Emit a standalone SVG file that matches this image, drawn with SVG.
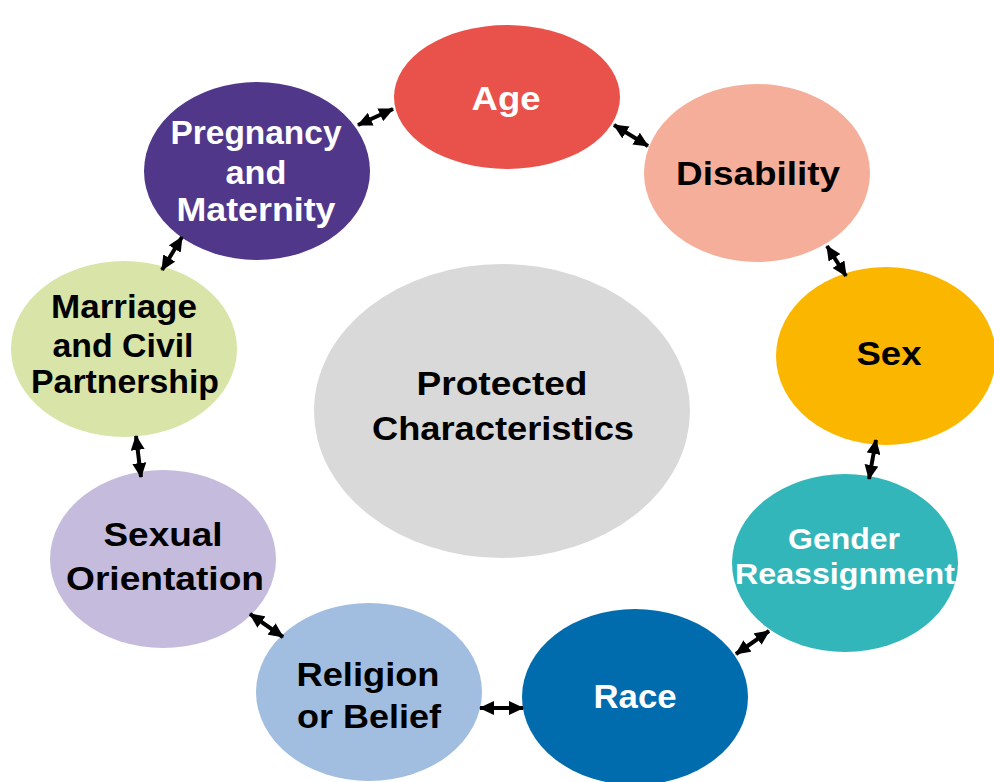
<svg xmlns="http://www.w3.org/2000/svg" width="994" height="782" viewBox="0 0 994 782">
<style>
text{font-family:"Liberation Sans",Arial,sans-serif;font-weight:bold;font-size:34px;text-anchor:middle}
.w{fill:#ffffff}.b{fill:#000000}
.s{font-size:30px}
.c{stroke:#000;stroke-width:4;fill:none;marker-start:url(#ah);marker-end:url(#ah)}
</style>
<defs>
<marker id="ah" viewBox="0 0 15 14" refX="14" refY="7" markerWidth="15" markerHeight="14" markerUnits="userSpaceOnUse" orient="auto-start-reverse">
<path d="M0,0 L15,7 L0,14 Z" fill="#000"/>
</marker>
</defs>
<rect width="994" height="782" fill="#fff"/>
<g id="center">
<ellipse cx="502" cy="411" rx="188" ry="147" fill="#D9D9D9"/>
<text class="b" x="502" y="395" textLength="171" lengthAdjust="spacingAndGlyphs">Protected</text>
<text class="b" x="503" y="440" textLength="262" lengthAdjust="spacingAndGlyphs">Characteristics</text>
</g>
<g id="age">
<ellipse cx="507" cy="97" rx="113" ry="72" fill="#E8524A"/>
<text class="w" x="506" y="110" textLength="69" lengthAdjust="spacingAndGlyphs">Age</text>
</g>
<g id="disability">
<ellipse cx="757" cy="173" rx="113" ry="89" fill="#F5AE9A"/>
<text class="b" x="758" y="185" textLength="164" lengthAdjust="spacingAndGlyphs">Disability</text>
</g>
<g id="sex">
<ellipse cx="886" cy="356" rx="110" ry="89" fill="#FBB700"/>
<text class="b" x="889" y="365" textLength="65" lengthAdjust="spacingAndGlyphs">Sex</text>
</g>
<g id="gender">
<ellipse cx="845" cy="563" rx="113" ry="89" fill="#33B6BA"/>
<text class="w s" x="844" y="549" textLength="112" lengthAdjust="spacingAndGlyphs">Gender</text>
<text class="w s" x="845" y="584" textLength="220" lengthAdjust="spacingAndGlyphs">Reassignment</text>
</g>
<g id="race">
<ellipse cx="635" cy="697" rx="113" ry="88" fill="#006CAE"/>
<text class="w" x="635" y="708" textLength="83" lengthAdjust="spacingAndGlyphs">Race</text>
</g>
<g id="religion">
<ellipse cx="369" cy="692" rx="113" ry="89" fill="#A1BEE0"/>
<text class="b" x="368" y="686" textLength="143" lengthAdjust="spacingAndGlyphs">Religion</text>
<text class="b" x="369" y="728" textLength="144" lengthAdjust="spacingAndGlyphs">or Belief</text>
</g>
<g id="sexual-orientation">
<ellipse cx="163" cy="559" rx="113" ry="89" fill="#C5BCDD"/>
<text class="b" x="163" y="546" textLength="119" lengthAdjust="spacingAndGlyphs">Sexual</text>
<text class="b" x="165" y="590" textLength="198" lengthAdjust="spacingAndGlyphs">Orientation</text>
</g>
<g id="marriage">
<ellipse cx="124" cy="349" rx="113" ry="88" fill="#D8E4A8"/>
<text class="b" x="124" y="318" textLength="146" lengthAdjust="spacingAndGlyphs">Marriage</text>
<text class="b" x="123" y="357" textLength="141" lengthAdjust="spacingAndGlyphs">and Civil</text>
<text class="b" x="125" y="393" textLength="188" lengthAdjust="spacingAndGlyphs">Partnership</text>
</g>
<g id="pregnancy">
<ellipse cx="257" cy="171" rx="113" ry="89" fill="#51378A"/>
<text class="w" x="256" y="144" textLength="171" lengthAdjust="spacingAndGlyphs">Pregnancy</text>
<text class="w" x="256" y="184" textLength="61" lengthAdjust="spacingAndGlyphs">and</text>
<text class="w" x="256" y="221" textLength="159" lengthAdjust="spacingAndGlyphs">Maternity</text>
</g>
<g id="connectors">
<line class="c" x1="358" y1="125" x2="393" y2="109"/>
<line class="c" x1="614" y1="125" x2="648" y2="146"/>
<line class="c" x1="827" y1="246" x2="846" y2="276"/>
<line class="c" x1="876" y1="440" x2="869" y2="479"/>
<line class="c" x1="736" y1="654" x2="769" y2="631"/>
<line class="c" x1="480" y1="708" x2="523" y2="708"/>
<line class="c" x1="250" y1="614" x2="283" y2="637"/>
<line class="c" x1="136" y1="436" x2="141" y2="477"/>
<line class="c" x1="162" y1="270" x2="182" y2="237"/>
</g>
</svg>
